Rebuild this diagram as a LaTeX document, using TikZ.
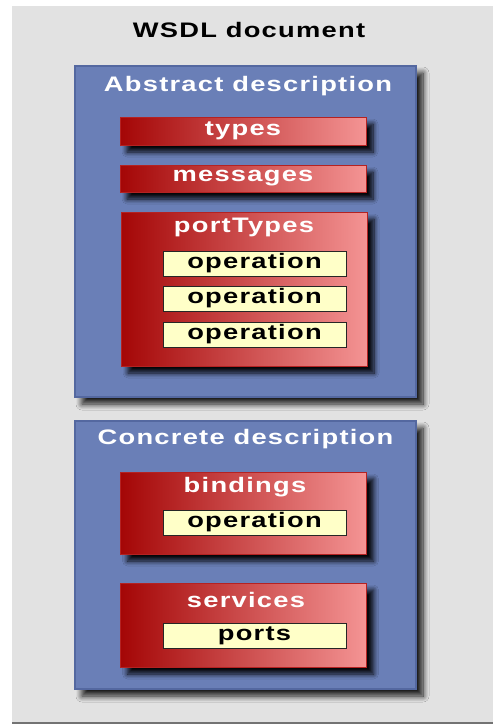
\documentclass[tikz,border=0pt]{standalone}
\usepackage{fontspec}
\newfontfamily\wsdlfont{Liberation Sans}[FakeStretch=1.3,LetterSpace=6]
\usepackage{tikz}
\usetikzlibrary{shadows.blur}
\definecolor{paper}{HTML}{E2E2E2}
\definecolor{slate}{HTML}{6A7FB7}
\definecolor{slaterim}{HTML}{5468A0}
\definecolor{darkred}{HTML}{A40606}
\definecolor{pinkred}{HTML}{F49494}
\definecolor{cream}{HTML}{FFFFC8}
\tikzset{
  panel/.style={fill=slate,draw=slaterim,line width=1.2pt,inner sep=0pt,
    blur shadow={shadow xshift=7pt,shadow yshift=-7pt,shadow opacity=90,shadow blur steps=10,shadow blur radius=6pt}},
  part/.style={left color=darkred,right color=pinkred,draw=darkred!80!pinkred,line width=0.8pt,inner sep=0pt,
    text=white,minimum width=246pt,
    blur shadow={shadow xshift=7pt,shadow yshift=-7pt,shadow opacity=95,shadow blur steps=8,shadow blur radius=5pt}},
  item/.style={fill=cream,draw=black!85,line width=0.8pt,inner sep=0pt,minimum width=183pt,minimum height=25pt,text=black},
  caption/.style={text=white,inner sep=0pt}
}

\begin{document}
\begin{tikzpicture}[x=1pt,y=-1pt,font=\wsdlfont\bfseries\fontsize{21}{24}\selectfont]
\useasboundingbox (0,0) rectangle (493,724);
% --- page
\fill[paper] (12,6) rectangle (493,722);
\fill[black!55] (12,722) rectangle (493,724);
\node (title) at (249,30) {WSDL document};

% --- abstract part
\node[panel,minimum width=341pt,minimum height=331pt] (abstract) at (245.5,231.5) {};
\node[caption] (abstitle) at (248,86) {Abstract description};
\node[part,minimum height=28pt] (types) at (243,131) {types};
\node[part,minimum height=27pt] (messages) at (243,178.5) {messages};
\node[part,minimum height=154pt] (porttypes) at (244,289) {};
\node[caption] (pttitle) at (244,227) {portTypes};
\foreach \y [count=\i] in {263.5,298.5,334.5}
  \node[item] (op\i) at (254.5,\y) {operation};

% --- concrete part
\node[panel,minimum width=341pt,minimum height=268pt] (concrete) at (245.5,555) {};
\node[caption] (contitle) at (245.5,439) {Concrete description};
\node[part,minimum height=82pt] (bindings) at (243.5,513) {};
\node[caption] (bindtitle) at (245,487) {bindings};
\node[item] (bindop) at (254.5,522.5) {operation};
\node[part,minimum height=84pt] (services) at (243.5,625) {};
\node[caption] (servtitle) at (246,600) {services};
\node[item] (ports) at (254.5,635.5) {ports};
\end{tikzpicture}
\end{document}
